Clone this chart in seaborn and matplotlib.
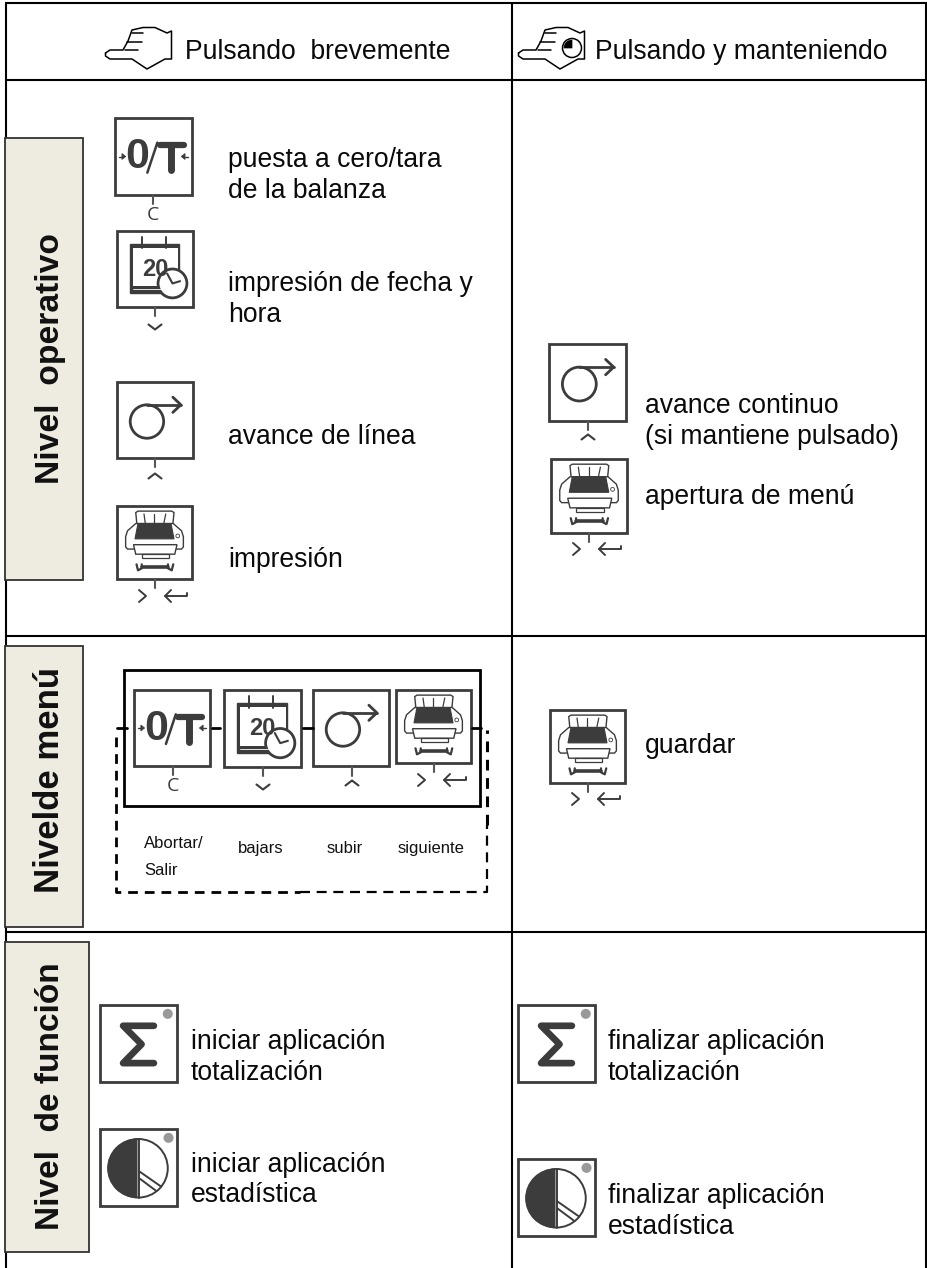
import numpy as np
import pandas as pd
import matplotlib
matplotlib.use('Agg')
import matplotlib.pyplot as plt
from matplotlib.patches import Rectangle, Circle, Polygon, Wedge
import seaborn as sns

# texts of the table
header_texts = ['Pulsando  brevemente', 'Pulsando y manteniendo']
level_names = ['Nivel  operativo', 'Nivelde menú', 'Nivel  de función']
short_press = ['puesta a cero/tara\nde la balanza', 'impresión de fecha y\nhora', 'avance de línea', 'impresión']
long_press = ['avance continuo\n(si mantiene pulsado)', 'apertura de menú']
menu_save = 'guardar'
menu_labels = ['Abortar/\nSalir', 'bajars', 'subir', 'siguiente']
func_start = ['iniciar aplicación\ntotalización', 'iniciar aplicación\nestadística']
func_end = ['finalizar aplicación\ntotalización', 'finalizar aplicación\nestadística']

DARK = '#3c3c3c'
TAB = '#eeebe0'
S = 77
FS = 19.1

sns.set_theme(style='white')
plt.rcParams['font.family'] = ['Liberation Sans', 'DejaVu Sans']

fig = plt.figure(figsize=(9.27, 12.68), dpi=100)
ax = fig.add_axes([0, 0, 1, 1])
ax.set_xlim(0, 927)
ax.set_ylim(1268, 0)
ax.axis('off')

# table rules
rules = pd.DataFrame({
    'rule': ['top', 'top', 'head', 'head', 'r1', 'r1', 'r2', 'r2', 'left', 'left', 'mid', 'mid', 'right', 'right'],
    'x': [6, 927, 6, 927, 6, 927, 6, 927, 6, 6, 512, 512, 926, 926],
    'y': [3, 3, 80, 80, 636, 636, 932, 932, 3, 1268, 3, 1268, 3, 1268],
})
sns.lineplot(data=rules, x='x', y='y', units='rule', estimator=None, sort=False,
             color='black', lw=1.5, ax=ax, legend=False)


def seg(pts, lw=1.6, color=DARK):
    pts = np.array(pts, dtype=float)
    ax.plot(pts[:, 0], pts[:, 1], color=color, lw=lw, solid_capstyle='round', solid_joinstyle='round')


def label(x, y, text, size=FS, pitch=30.5):
    # y is the baseline of the first line
    for i, line in enumerate(text.split('\n')):
        ax.text(x, y + i * pitch, line, fontsize=size, ha='left', va='baseline', color='#0a0a0a')


def box(x, y, s=S, s2=None):
    ax.add_patch(Rectangle((x, y), s, s2 or s, fc='white', ec=DARK, lw=2))


def stem(x, y, n=9):
    seg([(x, y), (x, y + n)], lw=1.5, color='#555555')


def key_c(x, y):
    ax.text(x, y, 'C', ha='center', va='center', fontsize=14, color=DARK, family='Open Sans')


def chev(x, y, up=False, w=6.5, h=5):
    d = -h if up else h
    seg([(x - w, y - d / 2), (x, y + d / 2), (x + w, y - d / 2)], lw=1.5)


def key_enter(x, y):
    seg([(x - 16, y - 6), (x - 9, y), (x - 16, y + 6)], lw=1.4)
    seg([(x + 32, y - 3), (x + 32, y), (x + 10, y)], lw=1.4)
    seg([(x + 16, y - 6), (x + 10, y), (x + 16, y + 6)], lw=1.4)


def icon_zero(x, y, s=S):
    box(x, y, s)
    cy = y + 0.5 * s
    ax.text(x + 0.29 * s, y + 0.51 * s, '0', ha='center', va='center', fontsize=31, fontweight='bold', color=DARK)
    seg([(x + 0.42 * s, y + 0.71 * s), (x + 0.55 * s, y + 0.32 * s)], lw=1.8)
    seg([(x + 0.58 * s, y + 0.35 * s), (x + 0.89 * s, y + 0.35 * s)], lw=4.5)
    seg([(x + 0.73 * s, y + 0.35 * s), (x + 0.73 * s, y + 0.68 * s)], lw=5)
    for a, b, c in [(0.05, 0.09, 1), (0.95, 0.91, -1)]:
        seg([(x + a * s, cy), (x + b * s, cy)], lw=1)
        ax.add_patch(Polygon([(x + b * s, cy - 3), (x + b * s, cy + 3), (x + (b + c * 0.05) * s, cy)], fc=DARK, ec=DARK, lw=0.5))


def icon_calendar(x, y, s=S):
    box(x, y, s)
    ax.add_patch(Rectangle((x + 0.17 * s, y + 0.17 * s), 0.65 * s, 0.65 * s, fc=DARK, ec=DARK, lw=1))
    ax.add_patch(Rectangle((x + 0.21 * s, y + 0.22 * s), 0.59 * s, 0.51 * s, fc='white', ec='none'))
    seg([(x + 0.21 * s, y + 0.76 * s), (x + 0.6 * s, y + 0.76 * s)], lw=0.6, color='white')
    seg([(x + 0.33 * s, y + 0.08 * s), (x + 0.33 * s, y + 0.23 * s)], lw=1.4)
    seg([(x + 0.64 * s, y + 0.08 * s), (x + 0.64 * s, y + 0.23 * s)], lw=1.4)
    ax.text(x + 0.5 * s, y + 0.5 * s, '20', ha='center', va='center', fontsize=17, fontweight='bold', color=DARK)
    cx, cy = x + 0.73 * s, y + 0.69 * s
    ax.add_patch(Circle((cx, cy), 0.19 * s, fc='white', ec=DARK, lw=2))
    seg([(cx - 0.07 * s, cy - 0.13 * s), (cx, cy), (cx + 0.1 * s, cy - 0.03 * s)], lw=1.5)


def icon_feed(x, y, s=S):
    box(x, y, s)
    cx, cy = x + 0.394 * s, y + 0.52 * s
    ax.add_patch(Circle((cx, cy), 0.22 * s, fc='none', ec=DARK, lw=2))
    seg([(cx, cy - 0.22 * s), (x + 0.84 * s, cy - 0.22 * s)], lw=2)
    seg([(x + 0.735 * s, y + 0.2 * s), (x + 0.84 * s, cy - 0.22 * s), (x + 0.735 * s, y + 0.4 * s)], lw=2)


def icon_printer(x, y, s=S, s2=None):
    h = s2 or s
    box(x, y, s, h)
    ax.add_patch(Polygon([(x + 0.27 * s, y + 0.3 * h), (x + 0.25 * s, y + 0.09 * h), (x + 0.28 * s, y + 0.07 * h),
                          (x + 0.73 * s, y + 0.07 * h), (x + 0.76 * s, y + 0.09 * h), (x + 0.74 * s, y + 0.3 * h)],
                         fc='white', ec=DARK, lw=1))
    for a, b in [(0.36, 0.38), (0.5, 0.5), (0.65, 0.62)]:
        seg([(x + a * s, y + 0.11 * h), (x + b * s, y + 0.26 * h)], lw=0.9)
    ax.add_patch(Polygon([(x + 0.25 * s, y + 0.24 * h), (x + 0.75 * s, y + 0.24 * h), (x + 0.86 * s, y + 0.34 * h),
                          (x + 0.885 * s, y + 0.42 * h), (x + 0.885 * s, y + 0.56 * h), (x + 0.86 * s, y + 0.59 * h),
                          (x + 0.14 * s, y + 0.59 * h), (x + 0.115 * s, y + 0.56 * h), (x + 0.115 * s, y + 0.42 * h),
                          (x + 0.14 * s, y + 0.34 * h)], fc='white', ec=DARK, lw=1))
    ax.add_patch(Polygon([(x + 0.28 * s, y + 0.24 * h), (x + 0.72 * s, y + 0.24 * h), (x + 0.76 * s, y + 0.45 * h),
                          (x + 0.24 * s, y + 0.45 * h)], fc=DARK, ec=DARK, lw=0.8))
    ax.add_patch(Circle((x + 0.81 * s, y + 0.41 * h), 0.025 * s, fc='white', ec=DARK, lw=0.6))
    ax.add_patch(Polygon([(x + 0.22 * s, y + 0.53 * h), (x + 0.8 * s, y + 0.53 * h), (x + 0.77 * s, y + 0.66 * h),
                          (x + 0.25 * s, y + 0.66 * h)], fc='white', ec=DARK, lw=1))
    ax.add_patch(Rectangle((x + 0.33 * s, y + 0.66 * h), 0.37 * s, 0.055 * h, fc='white', ec=DARK, lw=0.9))
    yw = y + 0.84 * h
    seg([(x + 0.33 * s, yw), (x + 0.68 * s, yw)], lw=2.6)
    seg([(x + 0.26 * s, yw - 3), (x + 0.28 * s, yw + 3), (x + 0.33 * s, yw + 1), (x + 0.33 * s, yw - 3)], lw=1.6)
    seg([(x + 0.75 * s, yw - 3), (x + 0.73 * s, yw + 3), (x + 0.68 * s, yw + 1), (x + 0.68 * s, yw - 3)], lw=1.6)


def icon_sum(x, y, s=S):
    box(x, y, s)
    seg([(x + 0.7 * s, y + 0.27 * s), (x + 0.3 * s, y + 0.27 * s), (x + 0.54 * s, y + 0.51 * s),
         (x + 0.3 * s, y + 0.755 * s), (x + 0.7 * s, y + 0.755 * s)], lw=4.8)
    ax.add_patch(Circle((x + 0.88 * s, y + 0.115 * s), 0.065 * s, fc='#999999', ec='none'))


def icon_pie(x, y, s=S):
    box(x, y, s)
    cx, cy, r = x + 0.49 * s, y + 0.51 * s, 0.38 * s
    ax.add_patch(Circle((cx + 0.01 * s, cy), r, fc='white', ec=DARK, lw=1.4))
    ax.add_patch(Wedge((cx - 0.01 * s, cy), r, 90, 270, fc=DARK, ec=DARK, lw=0.8))
    seg([(cx + 0.02 * s, cy - r), (cx + 0.02 * s, cy + r)], lw=1.4)
    seg([(cx + 0.02 * s, cy + 0.04 * s), (cx + 0.3 * s, cy + 0.235 * s)], lw=1.4)
    seg([(cx + 0.02 * s, cy + 0.13 * s), (cx + 0.235 * s, cy + 0.29 * s)], lw=1.4)
    ax.add_patch(Circle((x + 0.89 * s, y + 0.115 * s), 0.065 * s, fc='#999999', ec='none'))


def hand(dx, clock=False):
    out = [(105.5, 53), (110, 50), (123, 50), (128, 41), (132, 30), (143, 27.5), (155, 27.5), (167, 33), (171.5, 31),
           (171.5, 59), (165, 59), (147, 69), (132, 59), (110, 59), (105.5, 56), (105.5, 53)]
    seg([(a + dx, b) for a, b in out], lw=1.1, color='black')
    for line in [[(127, 41.5), (142, 41.5)], [(125, 50), (138, 50)], [(132, 33), (143, 33)]]:
        seg([(a + dx, b) for a, b in line], lw=1.1, color='black')
    if clock:
        cx, cy = 572, 48
        ax.add_patch(Circle((cx, cy), 9.5, fc='white', ec='black', lw=1.1))
        ax.add_patch(Wedge((cx, cy), 8, 180, 270, fc='black', ec='black', lw=0.5))


# header
hand(0)
hand(413, clock=True)
label(185, 59, header_texts[0])
label(595, 59, header_texts[1])

# level tabs
for (x0, y0, w, h), name, cy, fs in zip([(5, 138, 78, 442), (5, 646, 78, 281), (5, 942, 84, 310)], level_names,
                                        [358, 780, 1096], [24.2, 25, 24.1]):
    ax.add_patch(Rectangle((x0, y0), w, h, fc=TAB, ec='#333333', lw=1.3, zorder=3))
    ax.text(59, cy, name, rotation=90, rotation_mode='anchor', ha='center', va='baseline',
            fontsize=fs, fontweight='bold', color='#111111', zorder=4)

# operating level, short press
icon_zero(115, 118)
stem(153, 195)
key_c(153, 215)
icon_calendar(117, 231, 76)
stem(155, 307)
chev(155, 327)
icon_feed(117, 382, 76)
stem(155, 458)
chev(155, 476, up=True)
icon_printer(117, 506, 75, 73)
stem(155, 579)
key_enter(155, 596)
for t, y in zip(short_press, [167, 291, 444, 567]):
    label(228, y, t)

# operating level, long press
icon_feed(549, 344)
stem(588, 421)
chev(588, 437, up=True)
icon_printer(551, 459, 76, 74)
stem(589, 533)
key_enter(589, 549)
label(645, 413, long_press[0])
label(645, 504, long_press[1])

# menu level
ax.add_patch(Rectangle((124, 670), 356, 136, fc='none', ec='black', lw=2))
for a, b in [(117, 127), (212, 220), (303, 313), (472, 481)]:
    seg([(a, 728), (b, 728)], lw=2, color='black')
ax.plot([116, 116, 300], [737, 892, 892], color='black', lw=2, ls=(0, (3.5, 2.5)))
ax.plot([300, 487, 487], [892, 892, 825], color='black', lw=1.6, ls=(0, (4.5, 3)))
ax.plot([487, 487], [825, 730], color='black', lw=2.2, ls=(0, (3.5, 2.5)))
icon_zero(134, 690, 76)
stem(173, 766)
key_c(173, 786)
icon_calendar(224, 690)
stem(263, 767)
chev(263, 787)
icon_feed(313, 690, 76)
stem(352, 766, 10)
chev(352, 783, up=True)
icon_printer(396, 690, 75, 73)
stem(434, 763)
key_enter(434, 780)
for t, x, y in zip(menu_labels, [144, 238, 327, 398], [848, 853, 853, 853]):
    for i, line in enumerate(t.split('\n')):
        ax.text(x, y + i * 27, line, fontsize=12, ha='left', va='baseline', color='#111111')
icon_printer(550, 710, 75, 73)
stem(588, 783)
key_enter(588, 799)
label(645, 753, menu_save)

# function level
icon_sum(100, 1005)
icon_pie(100, 1129)
icon_sum(518, 1005)
icon_pie(518, 1159)
for t, y in zip(func_start, [1049, 1172]):
    label(191, y, t)
for t, y in zip(func_end, [1049, 1203]):
    label(608, y, t)

fig.savefig('out.png', dpi=100)
